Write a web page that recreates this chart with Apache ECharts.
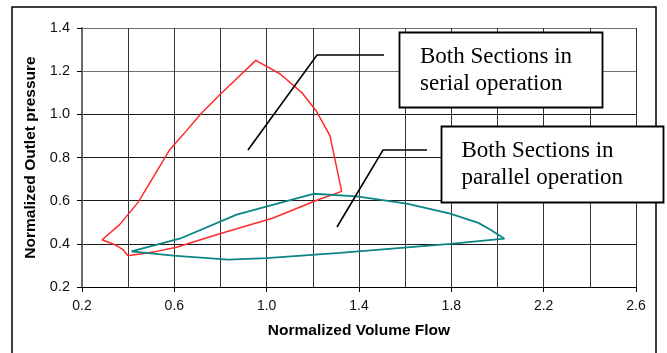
<!DOCTYPE html>
<html>
<head>
<meta charset="utf-8">
<script src="https://cdn.jsdelivr.net/npm/echarts@6/dist/echarts.min.js"></script>
<style>
html,body{margin:0;padding:0;background:#fff;}
#chart{width:667px;height:353px;}
</style>
</head>
<body>
<div id="chart"></div>
<script>
// Data (Normalized Volume Flow, Normalized Outlet pressure)
const serialFlow = [0.399,0.378,0.342,0.287,0.363,0.443,0.523,0.580,0.638,0.718,0.797,0.953,1.057,1.151,1.216,1.274,1.325,1.220,1.028,0.797,0.609,0.523,0.399];
const serialPressure = [0.345,0.373,0.396,0.419,0.489,0.592,0.735,0.836,0.906,1.006,1.091,1.250,1.188,1.102,1.014,0.901,0.643,0.603,0.520,0.447,0.384,0.365,0.345];

const parallelFlow = [0.414,0.631,0.870,1.202,1.390,1.607,1.795,1.917,1.968,2.030,1.795,1.318,0.999,0.833,0.595,0.414];
const parallelPressure = [0.365,0.427,0.535,0.632,0.620,0.586,0.540,0.497,0.466,0.424,0.400,0.358,0.334,0.327,0.345,0.365];

const xTicks = [0.2,0.6,1.0,1.4,1.8,2.2,2.6];
const yTicks = [0.2,0.4,0.6,0.8,1.0,1.2,1.4];

const annotationSerial = ['Both Sections in','serial operation'];
const annotationParallel = ['Both Sections in','parallel operation'];

function pairs(xs, ys){ return xs.map((x,i)=>[x, ys[i]]); }

const chart = echarts.init(document.getElementById('chart'), null, {renderer:'canvas'});
const sans = 'Liberation Sans, Arial, sans-serif';
const serif = 'Liberation Serif, Times New Roman, serif';

const option = {
  animation:false,
  backgroundColor:'#fff',
  grid:{left:82, top:28, width:554, height:259, containLabel:false},
  xAxis:{
    type:'value', min:xTicks[0], max:xTicks[xTicks.length-1], interval:0.4,
    name:'Normalized Volume Flow', nameLocation:'middle', nameGap:36,
    nameTextStyle:{fontFamily:sans, fontWeight:'bold', fontSize:15.5, color:'#000'},
    axisLine:{show:true, lineStyle:{color:'#000', width:1}},
    axisTick:{show:true, inside:false, length:5, lineStyle:{color:'#000'}},
    axisLabel:{fontFamily:sans, fontSize:14, color:'#111', margin:12, formatter:v=>v.toFixed(1)},
    splitLine:{show:true, lineStyle:{color:'#333', width:1}},
    minorTick:{show:false, splitNumber:2},
    minorSplitLine:{show:true, lineStyle:{color:'#333', width:1}}
  },
  yAxis:{
    type:'value', min:yTicks[0], max:yTicks[yTicks.length-1], interval:0.2,
    name:'Normalized Outlet pressure', nameLocation:'middle', nameGap:40, nameRotate:90,
    nameTextStyle:{fontFamily:sans, fontWeight:'bold', fontSize:15.5, color:'#000'},
    axisLine:{show:true, lineStyle:{color:'#6a6a6a', width:2}},
    axisTick:{show:true, inside:false, length:5, lineStyle:{color:'#000'}},
    axisLabel:{fontFamily:sans, fontSize:14.5, color:'#111', margin:12, formatter:v=>v.toFixed(1)},
    splitLine:{show:true, lineStyle:{color:['#333','#1a1a1a','#1a1a1a','#1a1a1a','#1a1a1a','#707070','#707070'], width:1}}
  },
  series:[
    {type:'line', name:'serial', data:pairs(serialFlow, serialPressure), symbol:'none',
     lineStyle:{color:'#ff2a2a', width:1.5}, z:3},
    {type:'line', name:'parallel', data:pairs(parallelFlow, parallelPressure), symbol:'none',
     lineStyle:{color:'#0b8585', width:1.8}, z:3}
  ],
  graphic:[
    {type:'rect', shape:{x:12, y:7, width:644, height:360}, style:{fill:'none', stroke:'#000', lineWidth:1.5}, z:0, silent:true},
    {type:'polyline', shape:{points:[[248,150],[317,55],[384,55]]}, style:{stroke:'#000', lineWidth:1.6, fill:null}, z:10},
    {type:'polyline', shape:{points:[[337,227],[383,150],[427,150]]}, style:{stroke:'#000', lineWidth:1.6, fill:null}, z:10},
    {type:'rect', shape:{x:399.5, y:32.5, width:203, height:75}, style:{fill:'#fff', stroke:'#000', lineWidth:1.8}, z:11},
    {type:'text', x:420, y:57, style:{text:annotationSerial[0], font:'23px '+serif, fill:'#000', textVerticalAlign:'middle'}, z:12},
    {type:'text', x:420, y:84, style:{text:annotationSerial[1], font:'23px '+serif, fill:'#000', textVerticalAlign:'middle'}, z:12},
    {type:'rect', shape:{x:441.5, y:126.5, width:222, height:76}, style:{fill:'#fff', stroke:'#000', lineWidth:1.8}, z:11},
    {type:'text', x:461.5, y:151, style:{text:annotationParallel[0], font:'23px '+serif, fill:'#000', textVerticalAlign:'middle'}, z:12},
    {type:'text', x:461.5, y:178, style:{text:annotationParallel[1], font:'23px '+serif, fill:'#000', textVerticalAlign:'middle'}, z:12}
  ]
};
chart.setOption(option);
</script>
</body>
</html>
